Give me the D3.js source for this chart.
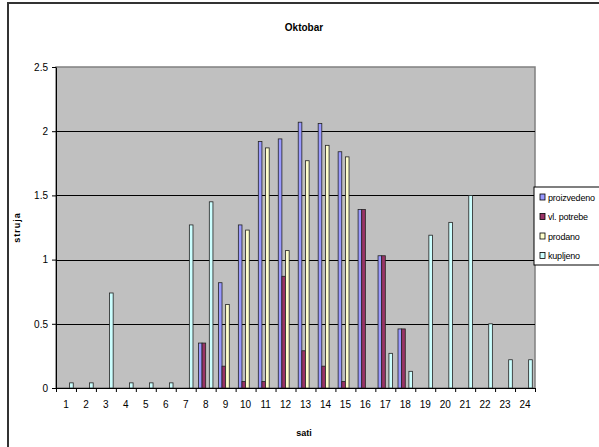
<!DOCTYPE html>
<html>
<head>
<meta charset="utf-8">
<script src="https://cdn.jsdelivr.net/npm/d3@7"></script>
<style>
  body { margin: 0; background: #fff; }
  svg { display: block; font-family: "Liberation Sans", Arial, sans-serif; }
</style>
</head>
<body>
<script>
// data
const hours = ["1","2","3","4","5","6","7","8","9","10","11","12","13","14","15","16","17","18","19","20","21","22","23","24"];
const seriesNames = ["proizvedeno", "vl. potrebe", "prodano", "kupljeno"];
const proizvedeno = [0,0,0,0,0,0,0,0.35,0.82,1.27,1.92,1.94,2.07,2.06,1.84,1.39,1.03,0.46,0,0,0,0,0,0];
const vlPotrebe   = [0,0,0,0,0,0,0,0.35,0.17,0.05,0.05,0.87,0.29,0.17,0.05,1.39,1.03,0.46,0,0,0,0,0,0];
const prodano     = [0,0,0,0,0,0,0,0,0.65,1.23,1.87,1.07,1.77,1.89,1.80,0,0,0,0,0,0,0,0,0];
const kupljeno    = [0.04,0.04,0.74,0.04,0.04,0.04,1.27,1.45,0,0,0,0,0,0,0,0,0.27,0.13,1.19,1.29,1.50,0.5,0.22,0.22];
const yTicks = [0, 0.5, 1, 1.5, 2, 2.5];

const colors = ["#9999ff", "#993366", "#ffffcc", "#ccffff"];
const allSeries = [proizvedeno, vlPotrebe, prodano, kupljeno];

const W = 599, H = 447;
const plot = { left: 56, right: 535, top: 67, bottom: 388 };

const svg = d3.select("body").append("svg")
    .attr("width", W)
    .attr("height", H);

// outer chart frame (only left and top visible in the picture)
svg.append("rect")
    .attr("x", 8).attr("y", 3)
    .attr("width", 620).attr("height", 470)
    .attr("fill", "#fff")
    .attr("stroke", "#333")
    .attr("stroke-width", 2);

//Scales
const x0 = d3.scaleBand()
    .domain(hours)
    .range([plot.left, plot.right])
    .padding(0);
const bw = x0.bandwidth();
const gap = bw * 1.5 / 5.5;
const x1 = d3.scaleBand()
    .domain(seriesNames)
    .range([gap / 2, bw - gap / 2]);
const y = d3.scaleLinear()
    .domain([0, 2.5])
    .range([plot.bottom, plot.top]);
const xEdges = d3.scaleLinear()
    .domain([0, 24])
    .range([plot.left, plot.right]);

// plot area
svg.append("rect")
    .attr("x", plot.left).attr("y", plot.top)
    .attr("width", plot.right - plot.left)
    .attr("height", plot.bottom - plot.top)
    .attr("fill", "#c0c0c0")
    .attr("stroke", "#808080")
    .attr("stroke-width", 1.5);

// gridlines
svg.append("g")
    .selectAll("line")
    .data(yTicks.filter(d => d > 0 && d < 2.5))
    .enter()
    .append("line")
    .attr("x1", plot.left).attr("x2", plot.right)
    .attr("y1", d => Math.round(y(d)) + 0.5)
    .attr("y2", d => Math.round(y(d)) + 0.5)
    .attr("stroke", "#000")
    .attr("stroke-width", 1);

// bars
const rows = [];
allSeries.forEach((vals, s) => {
    vals.forEach((v, i) => {
        if (v > 0) rows.push({ hour: hours[i], name: seriesNames[s], value: v, color: colors[s] });
    });
});
svg.append("g")
    .selectAll("rect")
    .data(rows)
    .enter()
    .append("rect")
    .attr("x", d => x0(d.hour) + x1(d.name))
    .attr("y", d => y(d.value))
    .attr("width", x1.bandwidth())
    .attr("height", d => plot.bottom - y(d.value))
    .attr("fill", d => d.color)
    .attr("stroke", "#222")
    .attr("stroke-width", 0.8);

//Axis y
const yAxis = d3.axisLeft(y)
    .tickValues(yTicks)
    .tickFormat(d => String(d))
    .tickSize(4)
    .tickSizeOuter(0)
    .tickPadding(4);
const gy = svg.append("g")
    .attr("transform", "translate(" + plot.left + ",0)")
    .call(yAxis);
gy.select(".domain").attr("stroke", "#000");
gy.selectAll("text").attr("font-size", 10).attr("fill", "#000");

//Axis x: ticks on category edges, labels in the middle
const gxTicks = svg.append("g")
    .attr("transform", "translate(0," + plot.bottom + ")")
    .call(d3.axisBottom(xEdges)
        .tickValues(d3.range(25))
        .tickFormat("")
        .tickSize(4)
        .tickSizeOuter(0));
gxTicks.select(".domain").attr("stroke", "#000");

const gxLabels = svg.append("g")
    .attr("transform", "translate(0," + plot.bottom + ")")
    .call(d3.axisBottom(x0).tickSize(0).tickPadding(13));
gxLabels.select(".domain").remove();
gxLabels.selectAll("text").attr("font-size", 10).attr("fill", "#000");

// titles
svg.append("text")
    .attr("x", 304).attr("y", 31)
    .attr("text-anchor", "middle")
    .attr("font-size", 10)
    .attr("font-weight", "bold")
    .text("Oktobar");
svg.append("text")
    .attr("x", 304).attr("y", 436)
    .attr("text-anchor", "middle")
    .attr("font-size", 9)
    .attr("font-weight", "bold")
    .text("sati");
svg.append("text")
    .attr("transform", "translate(20," + ((plot.top + plot.bottom) / 2) + ") rotate(-90)")
    .attr("text-anchor", "middle")
    .attr("font-size", 9)
    .attr("font-weight", "bold")
    .attr("letter-spacing", 1)
    .text("struja");

//Legend
const legend = svg.append("g")
    .attr("transform", "translate(534,187)");
legend.append("rect")
    .attr("x", 0).attr("y", 0)
    .attr("width", 80).attr("height", 78)
    .attr("fill", "#fff")
    .attr("stroke", "#000")
    .attr("stroke-width", 1);
const items = legend.selectAll(".item")
    .data(seriesNames)
    .enter()
    .append("g")
    .attr("transform", (d, i) => "translate(0," + (10 + i * 19.5) + ")");
items.append("rect")
    .attr("x", 6).attr("y", -3)
    .attr("width", 5).attr("height", 6)
    .attr("fill", (d, i) => colors[i])
    .attr("stroke", "#000")
    .attr("stroke-width", 0.8);
items.append("text")
    .attr("x", 14).attr("y", 3.5)
    .attr("font-size", 9)
    .attr("letter-spacing", -0.2)
    .text(d => d);
</script>
</body>
</html>
